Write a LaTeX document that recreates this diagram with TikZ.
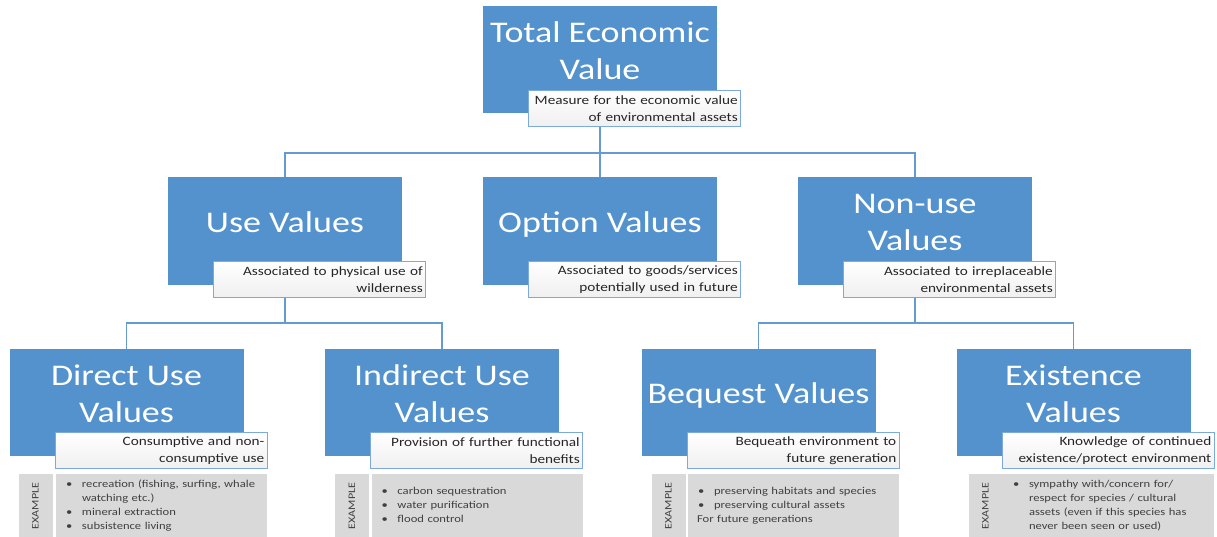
\documentclass[tikz,border=0pt]{standalone}
\usepackage{fontspec}
\setmainfont[FakeStretch=1.2]{Carlito}
\usetikzlibrary{positioning, calc}

\definecolor{tevblue}{RGB}{84,146,206}
\definecolor{tevline}{RGB}{100,155,210}
\definecolor{subline}{RGB}{125,170,220}
\definecolor{exgrey}{RGB}{217,217,217}
\definecolor{textdark}{RGB}{38,38,38}

\begin{document}
\begin{tikzpicture}[
    x=1pt, y=-1pt,
    valbox/.style={
        fill=tevblue,
        minimum width=234pt,
        minimum height=107pt,
        inner sep=0pt,
        align=center,
        text=white,
        text depth=18pt,
        font=\fontsize{30}{37}\selectfont
    },
    subbox/.style={
        draw=subline,
        line width=0.9pt,
        top color=white,
        bottom color=black!6,
        anchor=south east,
        minimum height=36pt,
        text width=206pt,
        inner xsep=3pt,
        inner ysep=0pt,
        align=right,
        text=textdark,
        font=\fontsize{12.7}{17}\selectfont
    },
    exlabel/.style={
        fill=exgrey,
        anchor=north west,
        minimum width=34pt,
        minimum height=63pt,
        inner sep=0pt
    },
    excontent/.style={
        fill=exgrey,
        anchor=north west,
        minimum width=211pt,
        minimum height=63pt,
        text width=211pt,
        inner sep=0pt,
        align=left,
        text=black!75,
        font=\fontsize{10.5}{14}\selectfont
    },
    conn/.style={
        draw=tevline,
        line width=1.2pt
    }
]
\useasboundingbox (0,0) rectangle (1217,537);

% Top
\node[valbox] (total) at (600,60) {Total Economic\\Value};
\node[subbox] (totalsub) at ([shift={(24,13)}]total.south east) {Measure for the economic value\\of environmental assets};

% Middle
\node[valbox] (use) at (285,231) {Use Values};
\node[valbox] (option) at (600,231) {Option Values};
\node[valbox] (nonuse) at (915,231) {Non-use\\Values};
\node[subbox] (usesub) at ([shift={(24,13)}]use.south east) {Associated to physical use of\\wilderness};
\node[subbox] (optionsub) at ([shift={(24,13)}]option.south east) {Associated to goods/services\\potentially used in future};
\node[subbox] (nonusesub) at ([shift={(24,13)}]nonuse.south east) {Associated to irreplaceable\\environmental assets};

% Bottom
\node[valbox] (direct) at (126.5,402.5) {Direct Use\\Values};
\node[valbox] (indirect) at (442,402.5) {Indirect Use\\Values};
\node[valbox] (bequest) at (758.5,402.5) {Bequest Values};
\node[valbox] (existence) at (1073.5,402.5) {Existence\\Values};
\node[subbox] (directsub) at ([shift={(24,13)}]direct.south east) {Consumptive and non-\\consumptive use};
\node[subbox] (indirectsub) at ([shift={(24,13)}]indirect.south east) {Provision of further functional\\benefits};
\node[subbox] (bequestsub) at ([shift={(24,13)}]bequest.south east) {Bequeath environment to\\future generation};
\node[subbox] (existencesub) at ([shift={(24,13)}]existence.south east) {Knowledge of continued\\existence/protect environment};

% Examples
\foreach \v/\dx in {direct/9, indirect/10, bequest/10, existence/12} {
    \node[exlabel] (\v lab) at ($(\v.south west |- \v sub.south)+(\dx,5)$) {};
    \node[rotate=90, text=black!75, font=\fontsize{10}{10}\selectfont] (\v labtext) at (\v lab.center) {EXAMPLE};
}
\node[excontent] (directex) at ($(directsub.south west)+(1,5)$) {%
    \begin{tabular}{@{\hspace{10pt}}p{16pt}@{}l@{}}
    \textbullet & recreation (fishing, surfing, whale\\
     & watching etc.)\\
    \textbullet & mineral extraction\\
    \textbullet & subsistence living
    \end{tabular}};
\node[excontent] (indirectex) at ($(indirectsub.south west)+(1,5)$) {%
    \begin{tabular}{@{\hspace{10pt}}p{16pt}@{}l@{}}
    \textbullet & carbon sequestration\\
    \textbullet & water purification\\
    \textbullet & flood control
    \end{tabular}};
\node[excontent] (bequestex) at ($(bequestsub.south west)+(1,5)$) {%
    \begin{tabular}{@{\hspace{10pt}}p{16pt}@{}l@{}}
    \textbullet & preserving habitats and species\\
    \textbullet & preserving cultural assets\\
    \multicolumn{2}{@{\hspace{9pt}}l@{}}{For future generations}
    \end{tabular}};
\node[excontent] (existenceex) at ($(existencesub.south west)+(1,5)$) {%
    \begin{tabular}{@{\hspace{10pt}}p{16pt}@{}l@{}}
    \textbullet & sympathy with/concern for/\\
     & respect for species / cultural\\
     & assets (even if this species has\\
     & never been seen or used)
    \end{tabular}};

% Connectors
\coordinate (topbus) at (600,153);
\coordinate (usebus) at (285,323);
\coordinate (nonusebus) at (915,323);
\draw[conn] (total.south |- totalsub.south) -- (topbus);
\draw[conn] (topbus) -| (use.north);
\draw[conn] (topbus) -- (option.north);
\draw[conn] (topbus) -| (nonuse.north);
\draw[conn] (use.south |- usesub.south) -- (usebus);
\draw[conn] (usebus) -| (direct.north);
\draw[conn] (usebus) -| (indirect.north);
\draw[conn] (nonuse.south |- nonusesub.south) -- (nonusebus);
\draw[conn] (nonusebus) -| (bequest.north);
\draw[conn] (nonusebus) -| (existence.north);

\end{tikzpicture}
\end{document}
